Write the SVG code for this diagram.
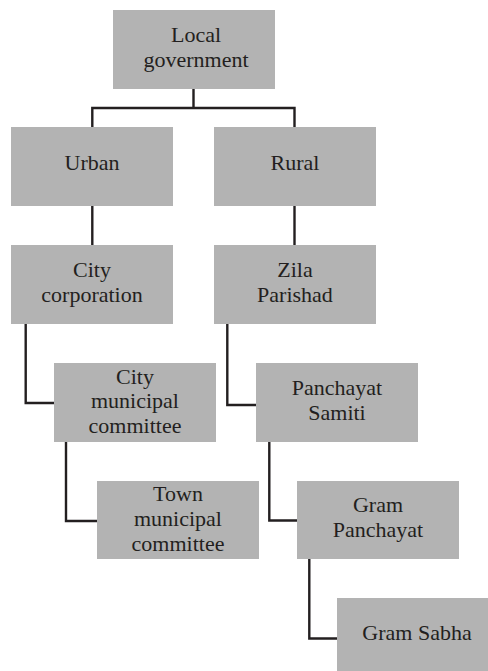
<svg xmlns="http://www.w3.org/2000/svg" width="488" height="671" viewBox="0 0 488 671">
<style>
.box{fill:#b3b3b3}
.t{font-family:"Liberation Serif","Times New Roman",serif;font-size:22px;fill:#231f20;text-anchor:middle}
.c{fill:none;stroke:#231f20;stroke-width:2.4;stroke-linejoin:miter}
</style>
<rect width="488" height="671" fill="#fff"/>
<g id="connectors">
<path class="c" d="M193.5 89V108M92.3 127V108H294.5V127"/>
<path class="c" d="M92.3 206V245"/>
<path class="c" d="M294.5 206V245"/>
<path class="c" d="M25.7 324V403H54"/>
<path class="c" d="M227.3 324V405H256"/>
<path class="c" d="M66 442V521H97"/>
<path class="c" d="M269.3 442V520.5H297"/>
<path class="c" d="M309.3 559V638.5H337"/>
</g>
<g id="local">
<rect class="box" x="113" y="10" width="162" height="79"/>
<text class="t" x="196" y="42">Local</text>
<text class="t" x="196" y="67">government</text>
</g>
<g id="urban">
<rect class="box" x="11" y="127" width="162" height="79"/>
<text class="t" x="92" y="170">Urban</text>
</g>
<g id="rural">
<rect class="box" x="214" y="127" width="162" height="79"/>
<text class="t" x="295" y="170">Rural</text>
</g>
<g id="city-corporation">
<rect class="box" x="11" y="245" width="162" height="79"/>
<text class="t" x="92" y="277">City</text>
<text class="t" x="92" y="302">corporation</text>
</g>
<g id="zila-parishad">
<rect class="box" x="214" y="245" width="162" height="79"/>
<text class="t" x="295" y="277">Zila</text>
<text class="t" x="295" y="302">Parishad</text>
</g>
<g id="city-municipal">
<rect class="box" x="54" y="363" width="162" height="79"/>
<text class="t" x="135" y="383.5">City</text>
<text class="t" x="135" y="408">municipal</text>
<text class="t" x="135" y="432.5">committee</text>
</g>
<g id="panchayat-samiti">
<rect class="box" x="256" y="363" width="162" height="79"/>
<text class="t" x="337" y="395">Panchayat</text>
<text class="t" x="337" y="419.5">Samiti</text>
</g>
<g id="town-municipal">
<rect class="box" x="97" y="481" width="162" height="78"/>
<text class="t" x="178" y="501">Town</text>
<text class="t" x="178" y="526">municipal</text>
<text class="t" x="178" y="551">committee</text>
</g>
<g id="gram-panchayat">
<rect class="box" x="297" y="481" width="162" height="78"/>
<text class="t" x="378" y="512">Gram</text>
<text class="t" x="378" y="537">Panchayat</text>
</g>
<g id="gram-sabha">
<rect class="box" x="337" y="598" width="162" height="79"/>
<text class="t" x="417" y="640">Gram Sabha</text>
</g>
</svg>
